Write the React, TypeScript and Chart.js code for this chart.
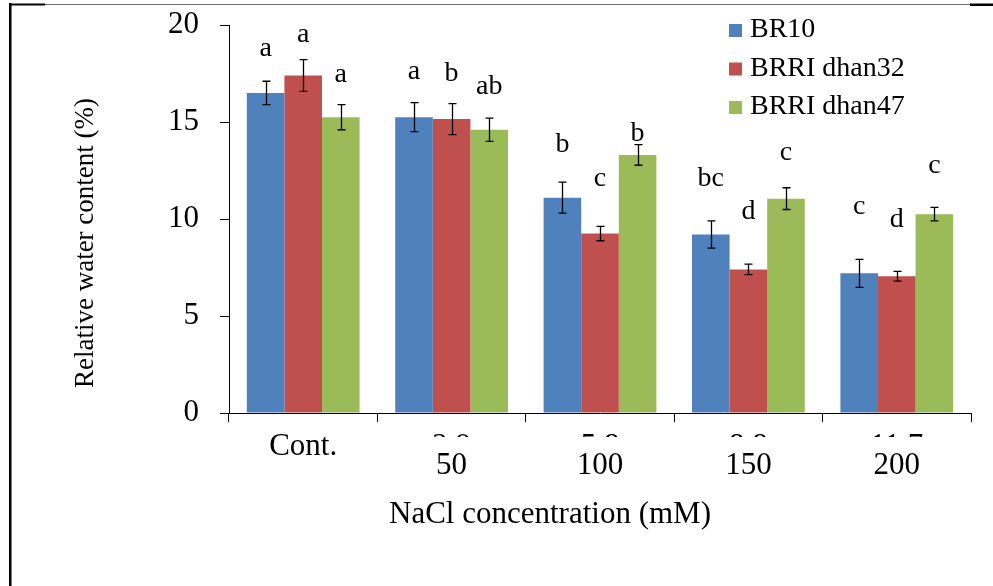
import React, { useEffect, useRef } from 'react';
import { Chart, registerables } from 'chart.js';

Chart.register(...registerables);

const categories = ['Cont.', '50', '100', '150', '200'];
const gramLabels = ['', '2.9', '5.8', '8.8', '11.7'];
const seriesNames = ['BR10', 'BRRI dhan32', 'BRRI dhan47'];
const seriesColors = ['#4F81BD', '#C0504D', '#9BBB59'];

const br10 = [16.5, 15.25, 11.1, 9.2, 7.2];
const br10Err = [0.6, 0.75, 0.8, 0.7, 0.72];
const dhan32 = [17.4, 15.15, 9.25, 7.4, 7.05];
const dhan32Err = [0.82, 0.8, 0.37, 0.27, 0.25];
const dhan47 = [15.25, 14.6, 13.3, 11.05, 10.25];
const dhan47Err = [0.65, 0.6, 0.53, 0.56, 0.35];

const br10Letters = ['a', 'a', 'b', 'bc', 'c'];
const dhan32Letters = ['a', 'b', 'c', 'd', 'd'];
const dhan47Letters = ['a', 'ab', 'b', 'c', 'c'];
const br10LetterLevel = [18.8, 17.6, 13.85, 12.1, 10.65];
const dhan32LetterLevel = [19.5, 17.5, 12.1, 10.4, 9.95];
const dhan47LetterLevel = [17.45, 16.8, 14.4, 13.4, 12.75];

const yMin = 0;
const yMax = 20;
const yStep = 5;

const yTitle = 'Relative water content (%)';
const xTitle = 'NaCl concentration (mM)';

const FONT = '"Liberation Serif", "Times New Roman", serif';

export default function App() {
  const ref = useRef<HTMLCanvasElement>(null);

  useEffect(() => {
    if (!ref.current) return;
    const errs = [br10Err, dhan32Err, dhan47Err];
    const letters = [br10Letters, dhan32Letters, dhan47Letters];
    const letterLevels = [br10LetterLevel, dhan32LetterLevel, dhan47LetterLevel];

    const overlay = {
      id: 'overlay',
      afterDatasetsDraw(chart: any) {
        const ctx = chart.ctx;
        const ys = chart.scales.y;
        ctx.save();
        chart.data.datasets.forEach((ds: any, i: number) => {
          const meta = chart.getDatasetMeta(i);
          meta.data.forEach((bar: any, j: number) => {
            const v = ds.data[j];
            const e = errs[i][j];
            const x = Math.round(bar.x) + 0.5;
            const yt = ys.getPixelForValue(v + e);
            const yb = ys.getPixelForValue(v - e);
            ctx.strokeStyle = '#000';
            ctx.lineWidth = 1.3;
            ctx.beginPath();
            ctx.moveTo(x, yt);
            ctx.lineTo(x, yb);
            ctx.moveTo(x - 4, yt);
            ctx.lineTo(x + 4, yt);
            ctx.moveTo(x - 4, yb);
            ctx.lineTo(x + 4, yb);
            ctx.stroke();
            ctx.fillStyle = '#000';
            ctx.font = `28px ${FONT}`;
            ctx.textAlign = 'center';
            ctx.textBaseline = 'middle';
            ctx.fillText(letters[i][j], bar.x, ys.getPixelForValue(letterLevels[i][j]));
          });
        });
        ctx.restore();
      },
      afterDraw(chart: any) {
        const ctx = chart.ctx;
        const xs = chart.scales.x;
        ctx.save();
        ctx.fillStyle = '#000';
        ctx.font = `31px ${FONT}`;
        ctx.textAlign = 'center';
        ctx.textBaseline = 'middle';
        categories.forEach((c, j) => {
          const cx = xs.getPixelForValue(j);
          if (gramLabels[j] === '') {
            ctx.fillText(c, cx, 447);
          } else {
            ctx.fillText(c, cx, 466);
            ctx.save();
            ctx.beginPath();
            ctx.rect(cx - 40, 420, 80, 17);
            ctx.clip();
            ctx.fillText(gramLabels[j], cx, 447);
            ctx.restore();
          }
        });
        // legend
        ctx.font = `28px ${FONT}`;
        seriesNames.forEach((n, i) => {
          const yc = 30 + i * 38.5;
          ctx.fillStyle = seriesColors[i];
          ctx.fillRect(729, yc - 6, 13, 13);
          ctx.fillStyle = '#000';
          ctx.textAlign = 'left';
          ctx.fillText(n, 750, yc);
        });
        // titles
        ctx.textAlign = 'center';
        ctx.font = `31px ${FONT}`;
        ctx.fillText(xTitle, 550, 515);
        ctx.save();
        ctx.font = `27px ${FONT}`;
        ctx.translate(86, 243);
        ctx.rotate(-Math.PI / 2);
        ctx.fillText(yTitle, 0, 0);
        ctx.restore();
        // frame
        ctx.fillStyle = '#000';
        ctx.fillRect(9, 3, 2.5, 583);
        ctx.fillRect(9, 3.5, 36, 2);
        ctx.fillRect(970, 3.5, 23, 2.5);
        ctx.fillStyle = '#6a6a6a';
        ctx.fillRect(45, 4, 925, 1);
        ctx.restore();
      },
    };

    const chart = new Chart(ref.current, {
      type: 'bar',
      data: {
        labels: categories,
        datasets: [
          { label: seriesNames[0], data: br10, backgroundColor: seriesColors[0] },
          { label: seriesNames[1], data: dhan32, backgroundColor: seriesColors[1] },
          { label: seriesNames[2], data: dhan47, backgroundColor: seriesColors[2] },
        ],
      },
      options: {
        responsive: false,
        animation: false,
        devicePixelRatio: 1,
        categoryPercentage: 0.76,
        barPercentage: 1.0,
        layout: { padding: { top: 25, right: 22, left: 0, bottom: 0 } },
        plugins: { legend: { display: false }, tooltip: { enabled: false } },
        scales: {
          x: {
            type: 'category',
            offset: true,
            grid: { display: true, drawOnChartArea: false, drawTicks: true, tickLength: 9, color: '#000', offset: true, lineWidth: 1 },
            border: { display: true, color: '#000', width: 1 },
            ticks: { display: false },
            afterFit: (s: any) => { s.height = 586 - 413; s.paddingLeft = 0; s.paddingRight = 0; },
          },
          y: {
            min: yMin,
            max: yMax,
            ticks: { stepSize: yStep, color: '#000', font: { family: FONT, size: 31 }, padding: 21 },
            grid: { display: true, drawOnChartArea: false, drawTicks: true, tickLength: 9, color: '#000', lineWidth: 1 },
            border: { display: true, color: '#000', width: 1 },
            afterFit: (s: any) => { s.width = 229; s.paddingTop = 0; s.paddingBottom = 0; },
          },
        },
      },
      plugins: [overlay],
    } as any);
    return () => chart.destroy();
  }, []);

  return (
    <canvas
      ref={ref}
      width={993}
      height={586}
      style={{ position: 'fixed', left: 0, top: 0, width: 993, height: 586, background: '#fff' }}
    />
  );
}
